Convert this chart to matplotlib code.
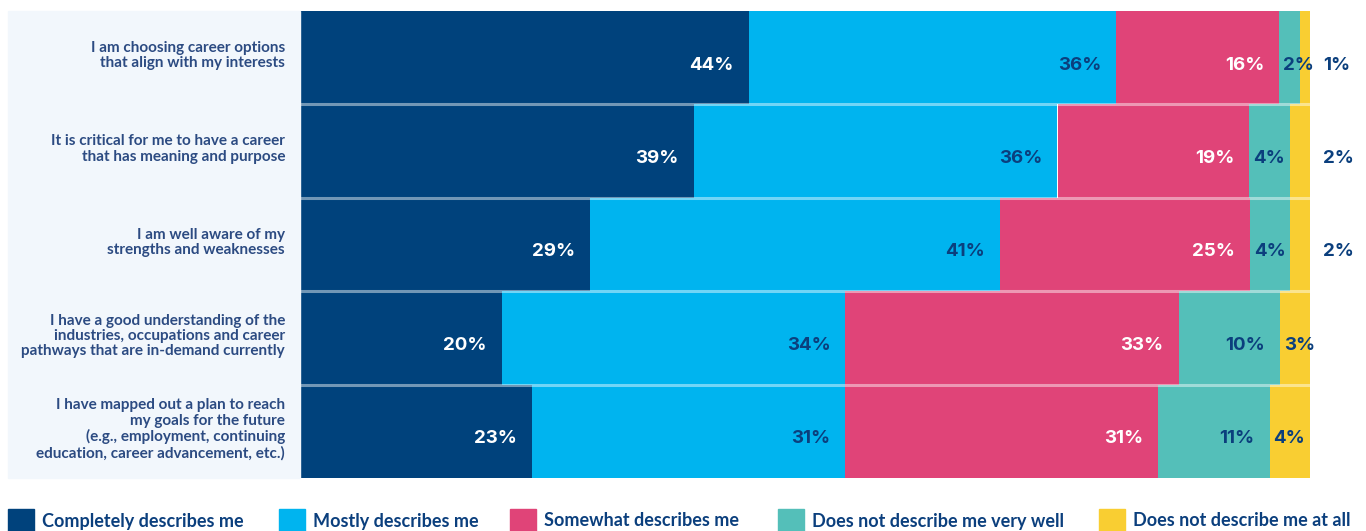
import matplotlib
matplotlib.use("Agg")
import matplotlib.pyplot as plt
from matplotlib.patches import Rectangle
from matplotlib.transforms import offset_copy
import numpy as np

plt.rcParams['font.family'] = ['Lato', 'DejaVu Sans']

statements = [
    "I am choosing career options\nthat align with my interests",
    "It is critical for me to have a career\nthat has meaning and purpose",
    "I am well aware of my\nstrengths and weaknesses",
    "I have a good understanding of the\nindustries, occupations and career\npathways that are in-demand currently",
    "I have mapped out a plan to reach\nmy goals for the future\n(e.g., employment, continuing\neducation, career advancement, etc.)",
]
responses = [
    "Completely describes me",
    "Mostly describes me",
    "Somewhat describes me",
    "Does not describe me very well",
    "Does not describe me at all",
]
completely = [44, 39, 29, 20, 23]
mostly = [36, 36, 41, 34, 31]
somewhat = [16, 19, 25, 33, 31]
not_very_well = [2, 4, 4, 10, 11]
not_at_all = [1, 2, 2, 3, 4]

colors = ["#00427c", "#00b4ef", "#e04478", "#54bfb9", "#f9ce32"]
label_colors = ["white", "#0b3f7d", "white", "#0b3f7d", "#0b3f7d"]
navy = "#0b3f7d"
cat_color = "#2c4b82"
value_font = ['Inter', 'Lato', 'DejaVu Sans']

W, H = 1366, 531
fig = plt.figure(figsize=(W / 100, H / 100), dpi=100)

def fx(px):
    return px / W

def fy(py):
    return 1 - py / H

# light panel behind the statements
fig.patches.append(Rectangle((fx(8), fy(478)), fx(300) - fx(8), fy(11) - fy(478),
                             transform=fig.transFigure, color="#f2f7fc", zorder=0))

ax = fig.add_axes([fx(300), fy(478), fx(1310) - fx(300), fy(11) - fy(478)])
ax.set_xlim(0, 100)
n = len(statements)
ax.set_ylim(n, 0)
ax.axis("off")

data = np.array([completely, mostly, somewhat, not_very_well, not_at_all], dtype=float)
shares = data / data.sum(axis=0) * 100
y = np.arange(n) + 0.5

left = np.zeros(n)
for k in range(len(responses)):
    ax.barh(y, shares[k], left=left, height=1.0, color=colors[k], linewidth=0, zorder=1)
    for i in range(n):
        start, end = left[i], left[i] + shares[k][i]
        txt = f"{int(data[k][i])}%"
        style = dict(va="baseline", fontsize=13.5, fontweight="bold",
                     family=value_font, zorder=3)
        if k == len(responses) - 1 and data[k][i] <= 2:
            tr = offset_copy(ax.transData, fig=fig, x=13, y=-12, units="dots")
            ax.text(end, y[i], txt, transform=tr, ha="left", color=navy, **style)
        elif data[k][i] < 5:
            tr = offset_copy(ax.transData, fig=fig, x=4, y=-12, units="dots")
            ax.text(start, y[i], txt, transform=tr, ha="left",
                    color=label_colors[k], **style)
        else:
            tr = offset_copy(ax.transData, fig=fig, x=-15, y=-12, units="dots")
            ax.text(end, y[i], txt, transform=tr, ha="right",
                    color=label_colors[k], **style)
    left += shares[k]

# thin translucent separators between rows
for b in range(1, n):
    ax.axhline(b, color="white", alpha=0.45, lw=2.2, zorder=2)

# statement labels
for i, s in enumerate(statements):
    yc = 11 + (478 - 11) * (i + 0.5) / n - 2
    fig.text(fx(285), fy(yc), s, ha="right", va="center", color=cat_color,
             fontsize=11, fontweight="bold", linespacing=1.12)

# legend row
legend_x = [8, 279, 510, 778, 1099]
for k, name in enumerate(responses):
    x0 = legend_x[k]
    fig.patches.append(Rectangle((fx(x0), fy(535)), fx(26), fy(509) - fy(535),
                                 transform=fig.transFigure, color=colors[k], zorder=1))
    fig.text(fx(x0 + 34), fy(521), name, ha="left", va="center", color=navy,
             fontsize=13, fontweight="bold")

fig.savefig("out.png", dpi=100, facecolor="white")
